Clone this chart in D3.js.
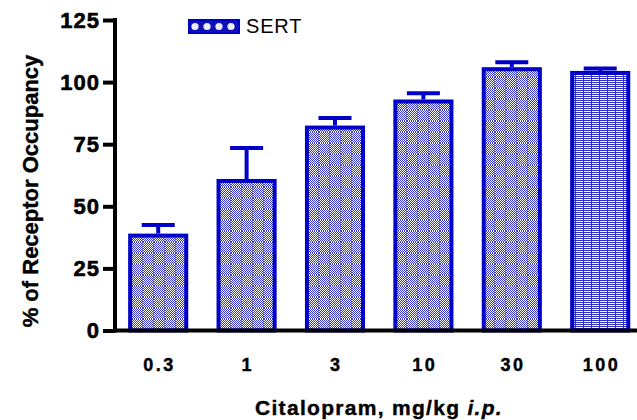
<!DOCTYPE html>
<html><head><meta charset="utf-8">
<script src="https://cdn.jsdelivr.net/npm/d3@7"></script>
<style>
body{margin:0;background:#fff;}
text{font-family:"Liberation Sans",Arial,sans-serif;}
</style></head>
<body>
<svg id="chart" width="637" height="420"></svg>
<script>
const doses = ["0.3","1","3","10","30","100"];
const occupancy = [39, 61, 82.5, 93, 106, 104.5];
const sem = [3.5, 12.5, 3, 2.5, 2, 1];
const yTicks = [0, 25, 50, 75, 100, 125];
const seriesName = "SERT";

const blue = "#0000c8";
const svg = d3.select("#chart");
const defs = svg.append("defs");

// checker pattern
const p1 = defs.append("pattern").attr("id","checker").attr("patternUnits","userSpaceOnUse")
  .attr("width",11).attr("height",11);
p1.append("rect").attr("width",11).attr("height",11).attr("fill","#fff");
for (let i=0;i<11;i++) for (let j=0;j<11;j++) if ((i+j)%2===0)
  p1.append("rect").attr("x",i).attr("y",j).attr("width",1).attr("height",1).attr("fill","#3535c0");
p1.append("rect").attr("x",10).attr("y",0).attr("width",1).attr("height",11).attr("fill","#5050b0").attr("opacity",0.6);

// striped pattern for last bar
const p2 = defs.append("pattern").attr("id","stripes").attr("patternUnits","userSpaceOnUse")
  .attr("width",8).attr("height",8);
p2.append("rect").attr("width",8).attr("height",8).attr("fill","#fff");
for (let j=0;j<8;j+=2) p2.append("rect").attr("x",0).attr("y",j).attr("width",8).attr("height",1).attr("fill","#3030c0");
p2.append("rect").attr("x",7).attr("y",0).attr("width",1).attr("height",8).attr("fill","#3030c0");

// legend pattern
const p3 = defs.append("pattern").attr("id","diamonds").attr("patternUnits","userSpaceOnUse")
  .attr("width",12).attr("height",12).attr("x",189).attr("y",20);
p3.append("rect").attr("width",12).attr("height",12).attr("fill","#1010b8");
p3.append("circle").attr("cx",6).attr("cy",6.5).attr("r",3.6).attr("fill","#eeeef8");

const x = d3.scaleBand().domain(doses).range([114, 644.4]).paddingInner(0.32).paddingOuter(0.16);
const y = d3.scaleLinear().domain([0,125]).range([330.5, 20]);

// bars
const g = svg.append("g");
g.selectAll("rect.bar").data(doses).join("rect")
  .attr("class","bar")
  .attr("x", d => x(d) + 2)
  .attr("width", x.bandwidth() - 4)
  .attr("y", (d,i) => y(occupancy[i]) + 2)
  .attr("height", (d,i) => y(0) - y(occupancy[i]) - 2)
  .attr("fill", (d,i) => i === doses.length-1 ? "url(#stripes)" : "url(#checker)")
  .attr("stroke", blue).attr("stroke-width", 4);

// error bars
const capW = 33;
doses.forEach((d,i) => {
  const cx = x(d) + x.bandwidth()/2;
  g.append("line").attr("x1",cx).attr("x2",cx)
    .attr("y1", y(occupancy[i])).attr("y2", y(occupancy[i]+sem[i]))
    .attr("stroke", blue).attr("stroke-width", 4);
  g.append("line").attr("x1",cx-capW/2).attr("x2",cx+capW/2)
    .attr("y1", y(occupancy[i]+sem[i])).attr("y2", y(occupancy[i]+sem[i]))
    .attr("stroke", blue).attr("stroke-width", 4);
});

// y axis
const yAxis = d3.axisLeft(y).tickValues(yTicks).tickSize(12).tickPadding(3);
const ya = svg.append("g").attr("transform","translate(115,0)").call(yAxis);
ya.select(".domain").remove();
ya.selectAll(".tick line").attr("stroke","#000").attr("stroke-width",4);
ya.selectAll(".tick text").attr("font-size",22).attr("font-weight","bold").attr("fill","#000")
  .attr("stroke","#000").attr("stroke-width",0.6)
  .attr("font-family","Liberation Sans, Arial, sans-serif").attr("letter-spacing","1px");
svg.append("line").attr("x1",115).attr("x2",115).attr("y1",y(125)-2).attr("y2",y(0)+2)
  .attr("stroke","#000").attr("stroke-width",4);

// x axis
const xAxis = d3.axisBottom(x).tickSize(0).tickPadding(28);
const xa = svg.append("g").attr("transform",`translate(0,${y(0)})`).call(xAxis);
xa.select(".domain").remove();
xa.selectAll(".tick text").attr("font-size",18).attr("font-weight","bold").attr("fill","#000")
  .attr("stroke","#000").attr("stroke-width",0.4)
  .attr("font-family","Liberation Sans, Arial, sans-serif").attr("letter-spacing","2.5px")
  .attr("dx","1.25px");
svg.append("line").attr("x1",113).attr("x2",637).attr("y1",y(0)).attr("y2",y(0))
  .attr("stroke","#000").attr("stroke-width",4);

// axis titles
const xt = svg.append("text").attr("x",379).attr("y",415).attr("text-anchor","middle")
  .attr("font-size",21).attr("font-weight","bold").attr("letter-spacing","1.3px")
  .attr("stroke","#000").attr("stroke-width",0.4);
xt.append("tspan").text("Citalopram, mg/kg ");
xt.append("tspan").attr("font-style","italic").text("i.p.");

svg.append("text").attr("transform","translate(38,191) rotate(-90)").attr("text-anchor","middle")
  .attr("font-size",22).attr("font-weight","bold").attr("stroke","#000").attr("stroke-width",0.4)
  .text("% of Receptor Occupancy");

// legend
svg.append("rect").attr("x",189).attr("y",20).attr("width",50).attr("height",13)
  .attr("fill","url(#diamonds)").attr("stroke",blue).attr("stroke-width",2);
svg.append("text").attr("x",246).attr("y",33).attr("font-size",20).attr("letter-spacing","0.8px").text(seriesName);
</script>
</body></html>
